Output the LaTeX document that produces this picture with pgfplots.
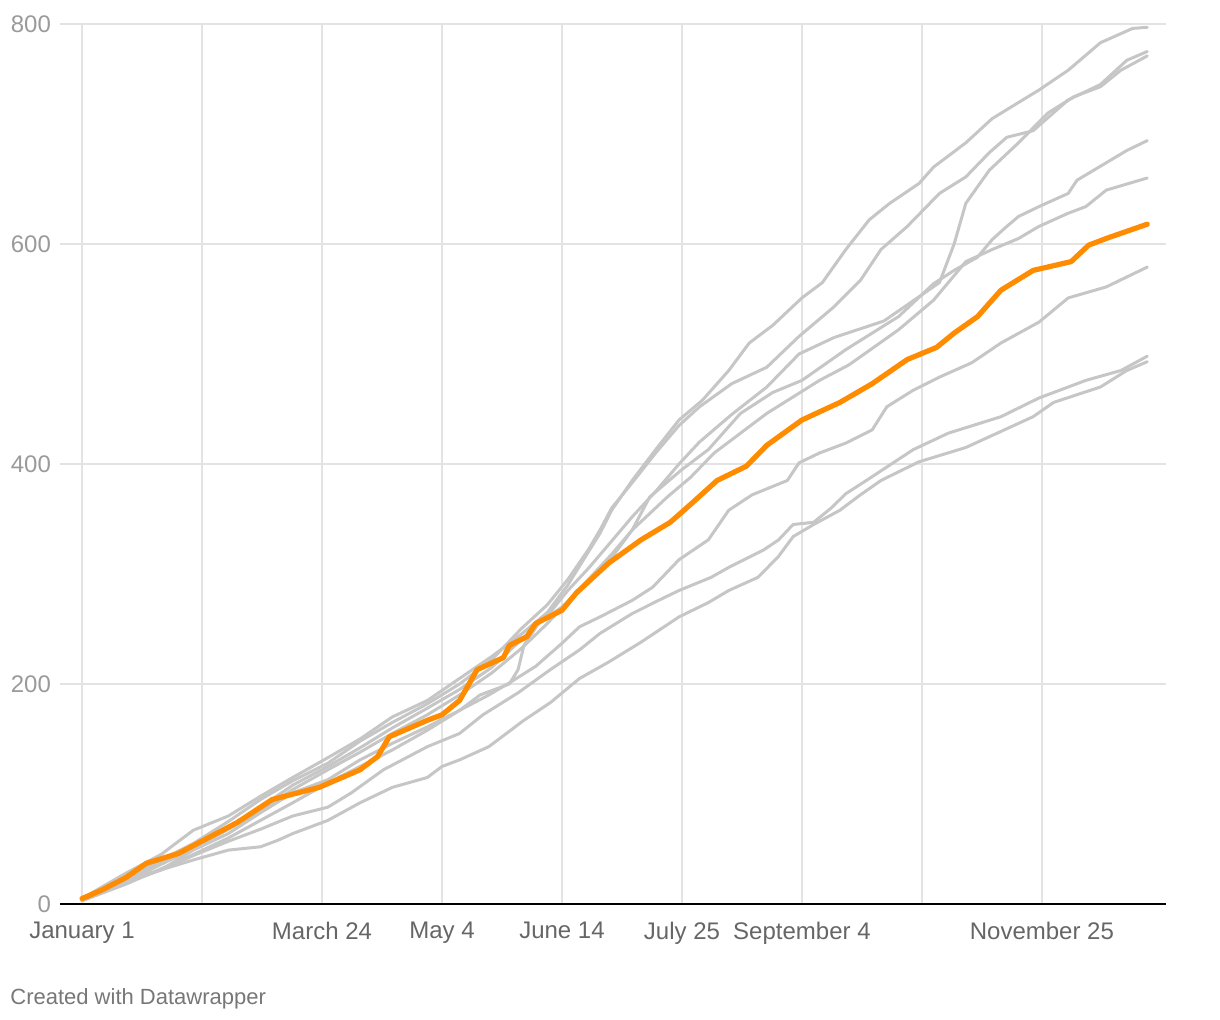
\documentclass[border=0pt]{standalone}
\usepackage{fontspec}
\setmainfont{Liberation Sans}
\usepackage{pgfplots}
\pgfplotsset{compat=1.18}
\definecolor{lineGray}{HTML}{C6C6C6}
\definecolor{lineOrange}{HTML}{FF8C00}
\definecolor{gridGray}{HTML}{E3E3E3}
\definecolor{ylab}{HTML}{9A9A9A}
\definecolor{xlab}{HTML}{666666}
\definecolor{credit}{HTML}{777777}
\begin{document}
\begin{tikzpicture}
\useasboundingbox (-30pt,-58pt) rectangle (580pt,452pt);
\begin{axis}[
  at={(0,0)}, anchor=south west,
  scale only axis, width=553pt, height=440pt,
  xmin=-7.52, xmax=370.4, ymin=0, ymax=800,
  axis x line*=bottom, axis y line*=left,
  x axis line style={black, line width=1pt, -},
  y axis line style={draw=none},
  major tick length=0pt,
  ytick={0,200,400,600,800},
  xtick={0,41,82,123,164,205,246,287,328},
  xticklabels={January 1,,March 24,May 4,June 14,July 25,September 4,,November 25},
  grid=major,
  major grid style={gridGray, line width=1pt},
  /pgf/number format/assume math mode=true,
  tick label style={font=\fontsize{12}{14}\selectfont},
  xticklabel style={text=xlab, yshift=-5.5pt},
  yticklabel style={text=ylab, xshift=-1pt},
  every axis plot/.append style={line join=round, line cap=round},
]
% G1
\addplot[lineGray, line width=1.5pt] coordinates {(0,5)(15,28)(27,45)(38,67)(50,80)(61,98)(72,115)(84,133)(95,150)(106,170)(118,185)(129,205)(140,225)(150,245)(159,265)(166,290)(173,320)(177,337)(181,358)(188,385)(196,413)(204,440)(212,458)(221,485)(228,510)(236,526)(246,551)(253,565)(261,595)(269,622)(276,637)(286,655)(291,670)(302,692)(311,714)(327,740)(337,758)(348,783)(359,796)(364,797)};
% G2
\addplot[lineGray, line width=1.5pt] coordinates {(0,4)(15,25)(27,40)(38,55)(50,75)(61,95)(72,112)(84,128)(95,148)(106,165)(118,182)(129,200)(140,222)(150,250)(159,272)(166,295)(173,322)(177,340)(181,360)(188,383)(196,410)(204,435)(211,452)(222,473)(234,488)(245,516)(257,543)(266,567)(273,595)(282,616)(293,646)(302,661)(310,683)(316,697)(325,703)(337,731)(348,745)(357,767)(364,775)};
% G3
\addplot[lineGray, line width=1.5pt] coordinates {(0,4)(15,22)(27,38)(38,52)(50,70)(61,88)(72,108)(84,125)(95,142)(106,160)(118,178)(129,195)(140,215)(150,240)(159,262)(166,285)(173,305)(181,330)(188,352)(196,375)(204,400)(211,420)(222,445)(234,470)(245,500)(257,515)(274,530)(286,552)(293,565)(298,600)(302,637)(310,667)(320,692)(330,719)(339,734)(348,743)(355,758)(364,771)};
% G4
\addplot[lineGray, line width=1.5pt] coordinates {(0,3)(15,20)(27,36)(38,50)(50,68)(61,85)(72,104)(84,122)(95,138)(106,155)(118,172)(129,190)(140,210)(150,232)(159,255)(166,275)(173,295)(181,318)(188,340)(194,370)(205,395)(214,413)(225,446)(236,465)(246,476)(261,504)(270,519)(279,534)(291,564)(298,576)(306,588)(311,604)(316,616)(320,625)(327,634)(337,646)(340,658)(357,685)(364,694)};
% G5
\addplot[lineGray, line width=1.5pt] coordinates {(0,3)(15,18)(27,32)(38,45)(50,60)(61,76)(72,92)(84,110)(95,125)(106,140)(118,158)(129,176)(136,190)(146,200)(149,213)(151,235)(156,255)(164,270)(173,292)(181,315)(188,340)(200,370)(208,388)(216,410)(225,428)(234,446)(243,461)(252,476)(262,490)(279,522)(291,549)(302,584)(311,595)(320,605)(327,616)(337,628)(343,634)(350,649)(364,660)};
% G6
\addplot[lineGray, line width=1.5pt] coordinates {(0,4)(4,10)(15,22)(27,31)(38,49)(50,64)(61,83)(72,101)(84,113)(95,131)(106,146)(118,161)(129,176)(139,190)(146,201)(155,216)(164,237)(170,252)(177,261)(188,276)(195,288)(204,313)(214,331)(221,358)(229,372)(241,385)(245,401)(252,410)(261,419)(270,431)(275,452)(284,467)(293,479)(304,492)(314,510)(327,529)(337,551)(350,561)(364,579)};
% G7
\addplot[lineGray, line width=1.5pt] coordinates {(0,4)(4,9)(15,20)(27,31)(38,44)(50,57)(61,68)(72,80)(84,88)(92,101)(103,122)(118,143)(129,155)(137,172)(149,192)(160,213)(170,231)(177,246)(188,264)(197,276)(204,285)(215,297)(221,306)(233,322)(238,331)(243,345)(250,347)(256,360)(261,373)(268,385)(284,413)(296,428)(314,443)(327,460)(343,476)(355,485)(364,498)};
% G8
\addplot[lineGray, line width=1.5pt] coordinates {(0,3)(15,19)(27,31)(38,40)(50,49)(61,52)(67,58)(72,64)(84,76)(95,92)(106,106)(118,115)(123,125)(129,131)(139,143)(151,167)(160,183)(170,205)(180,220)(191,238)(204,261)(214,274)(221,285)(231,297)(238,316)(243,334)(250,345)(259,358)(266,372)(273,385)(286,402)(302,415)(325,443)(332,456)(348,470)(357,485)(364,493)};
% Orange
\addplot[lineOrange, line width=2.6pt] coordinates {(0,5)(1,6)(7,13)(15,24)(22,37)(33,46)(43,60)(53,74)(65,95)(81,106)(95,122)(101,134)(105,152)(118,167)(123,172)(129,185)(135,213)(144,224)(146,235)(152,243)(155,255)(164,267)(169,283)(180,310)(191,331)(201,347)(207,361)(217,385)(227,398)(234,417)(246,440)(259,456)(270,473)(282,495)(292,506)(298,519)(306,534)(314,558)(325,576)(338,584)(344,599)(351,606)(364,618)};
\end{axis}
\node[anchor=base west, text=credit, font=\fontsize{11}{13}\selectfont, inner sep=0pt] at (-25pt,-50.5pt) {Created with Datawrapper};
\end{tikzpicture}
\end{document}
